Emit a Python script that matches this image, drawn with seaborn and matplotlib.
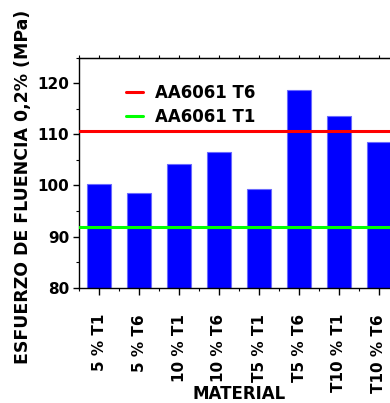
import matplotlib
matplotlib.use("Agg")
import matplotlib.pyplot as plt
from matplotlib.ticker import MultipleLocator
import seaborn as sns
import pandas as pd

# Yield strength per material condition
materials = ["5 % T1", "5 % T6", "10 % T1", "10 % T6", "T5 % T1", "T5 % T6", "T10 % T1", "T10 % T6"]
yield_mpa = [100.3, 98.5, 104.3, 106.5, 99.4, 118.7, 113.5, 108.5]

# Reference alloy levels
ref_labels = ["AA6061 T6", "AA6061 T1"]
ref_values = [110.7, 91.9]
ref_colors = ["#ff0000", "#00ff00"]

sns.set_style("ticks")
plt.rcParams["font.family"] = ["DejaVu Sans"]
plt.rcParams["font.weight"] = "bold"
for key in ["text.color", "axes.labelcolor", "xtick.color", "ytick.color", "axes.edgecolor"]:
    plt.rcParams[key] = "black"

df = pd.DataFrame({"material": materials, "yield": yield_mpa})

fig = plt.figure(figsize=(3.9, 4.03), dpi=100)
ax = fig.add_axes([79 / 390, 1 - 287.7 / 403, 320 / 390, 230 / 403])

sns.barplot(data=df, x="material", y="yield", ax=ax, color="#0000ff",
            width=0.62, edgecolor="#6a6aff", linewidth=0.8, saturation=1)

for lab, val, col in zip(ref_labels, ref_values, ref_colors):
    ax.axhline(val, color=col, lw=2.2, label=lab, zorder=3)

ax.set_xlim(-0.5, len(materials) - 0.5)
ax.set_ylim(80, 125)
ax.yaxis.set_major_locator(MultipleLocator(10))
ax.yaxis.set_minor_locator(MultipleLocator(5))
ax.xaxis.set_minor_locator(MultipleLocator(0.5))

ax.tick_params(axis="y", which="major", direction="out", length=4, width=1,
               labelsize=11, pad=3, colors="black")
ax.tick_params(axis="y", which="minor", direction="out", length=2, width=0.8)
ax.tick_params(axis="x", which="major", direction="out", length=5, width=1,
               labelsize=11, pad=14, colors="black")
ax.tick_params(axis="x", which="minor", direction="out", length=2, width=0.8)
for t in ax.get_xticklabels():
    t.set_rotation(90)
    t.set_va("top")
    t.set_ha("center")
    t.set_fontweight("bold")
for t in ax.get_yticklabels():
    t.set_fontweight("bold")

top = ax.secondary_xaxis("top")
top.set_xticks([i * 0.5 - 0.5 for i in range(2 * len(materials) + 1)])
top.tick_params(direction="out", length=2, width=0.8, labeltop=False)

for s in ax.spines.values():
    s.set_linewidth(1)
    s.set_color("black")
ax.spines["right"].set_visible(False)

ax.set_xlabel("")
ax.set_ylabel("")
fig.text(239 / 390, 1 - 394 / 403, "MATERIAL", ha="center", va="center",
         fontsize=12, fontweight="bold")
fig.text(23 / 390, 1 - 186.5 / 403, "ESFUERZO DE FLUENCIA 0,2% (MPa)",
         rotation=90, ha="center", va="center", fontsize=12.5, fontweight="bold")

leg = ax.legend(loc="upper left", bbox_to_anchor=(0.1, 0.95), frameon=False,
                handlelength=1.0, handletextpad=0.75, labelspacing=0.35,
                prop={"size": 12, "weight": "bold"})

fig.savefig("out.png", dpi=100)
